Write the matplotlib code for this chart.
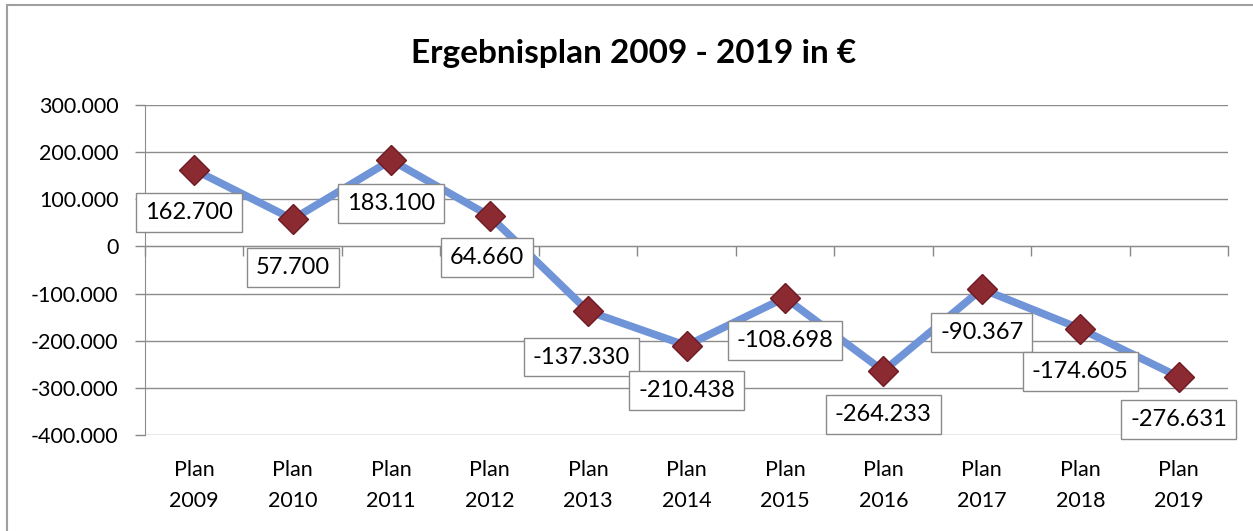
import numpy as np
import matplotlib.pyplot as plt
from matplotlib.patches import Rectangle
from matplotlib.ticker import FuncFormatter, FixedLocator

plt.rcParams['font.family'] = ['Lato', 'DejaVu Sans']

# data
categories = ["Plan\n2009", "Plan\n2010", "Plan\n2011", "Plan\n2012", "Plan\n2013", "Plan\n2014",
              "Plan\n2015", "Plan\n2016", "Plan\n2017", "Plan\n2018", "Plan\n2019"]
values = [162700, 57700, 183100, 64660, -137330, -210438, -108698, -264233, -90367, -174605, -276631]
value_labels = ["162.700", "57.700", "183.100", "64.660", "-137.330", "-210.438",
                "-108.698", "-264.233", "-90.367", "-174.605", "-276.631"]
# label offsets in points (dx, dy) relative to the marker
label_dx = [-4, 0, 0, -2, -5, 0, 0, 0, 0, 0, 0]
label_dy = [-31, -35, -31, -30, -33, -32, -31, -31, -31, -31, -31]

fig = plt.figure(figsize=(12.53, 5.31), dpi=100)
fig.patches.append(Rectangle((7 / 1253, -0.1), 1.2, 1 - 5 / 531 + 0.1, transform=fig.transFigure,
                             fill=False, edgecolor='#a0a0a0', linewidth=1.5))

ax = fig.add_axes([145 / 1253, 96 / 531, 1083 / 1253, 330 / 531])
x = np.arange(len(values))

ax.plot(x, values, color='#7094d8', linewidth=5.5, zorder=3, solid_capstyle='round')
ax.plot(x, values, linestyle='none', marker='D', markersize=15, markerfacecolor='#8c2a32',
        markeredgecolor='#6e1a22', markeredgewidth=1, zorder=4)

for xi, v, lab, dx, dy in zip(x, values, value_labels, label_dx, label_dy):
    ax.annotate(lab, (xi, v), xytext=(dx, dy), textcoords='offset points',
                ha='center', va='center', fontsize=17, zorder=5,
                bbox=dict(boxstyle='square,pad=0.38', fc='white', ec='#8a8a8a', lw=1))

ax.set_xlim(-0.5, len(values) - 0.5)
ax.set_ylim(-400000, 300000)
ax.set_yticks(np.arange(-400000, 300001, 100000))
ax.yaxis.set_major_formatter(FuncFormatter(lambda v, p: f"{int(v):,}".replace(",", ".")))
ax.tick_params(axis='y', length=7, width=1, color='#888888', labelsize=15.5, pad=12)
ax.grid(axis='y', color='#8c8c8c', linewidth=1)
ax.set_axisbelow(True)

# x axis crossing at zero with boundary ticks
ax.spines['bottom'].set_position(('data', 0))
ax.spines['bottom'].set_color('#8c8c8c')
ax.spines['left'].set_color('#8c8c8c')
ax.spines['top'].set_visible(False)
ax.spines['right'].set_visible(False)
ax.set_xticks(x)
ax.set_xticklabels([])
ax.tick_params(axis='x', which='major', length=0)
ax.xaxis.set_minor_locator(FixedLocator(np.arange(-0.5, len(values), 1)))
ax.tick_params(axis='x', which='minor', length=7, width=1, color='#888888', direction='out')

sec = ax.secondary_xaxis(0)
sec.set_xticks(x)
sec.set_xticklabels(categories, fontsize=15.5, linespacing=1.7)
sec.tick_params(length=0, pad=18)
sec.spines['bottom'].set_visible(False)

fig.text(634 / 1253, 1 - 53 / 531, "Ergebnisplan 2009 - 2019 in €", ha='center', va='center',
         fontsize=24, fontweight='bold')

fig.savefig('out.png', dpi=100)
